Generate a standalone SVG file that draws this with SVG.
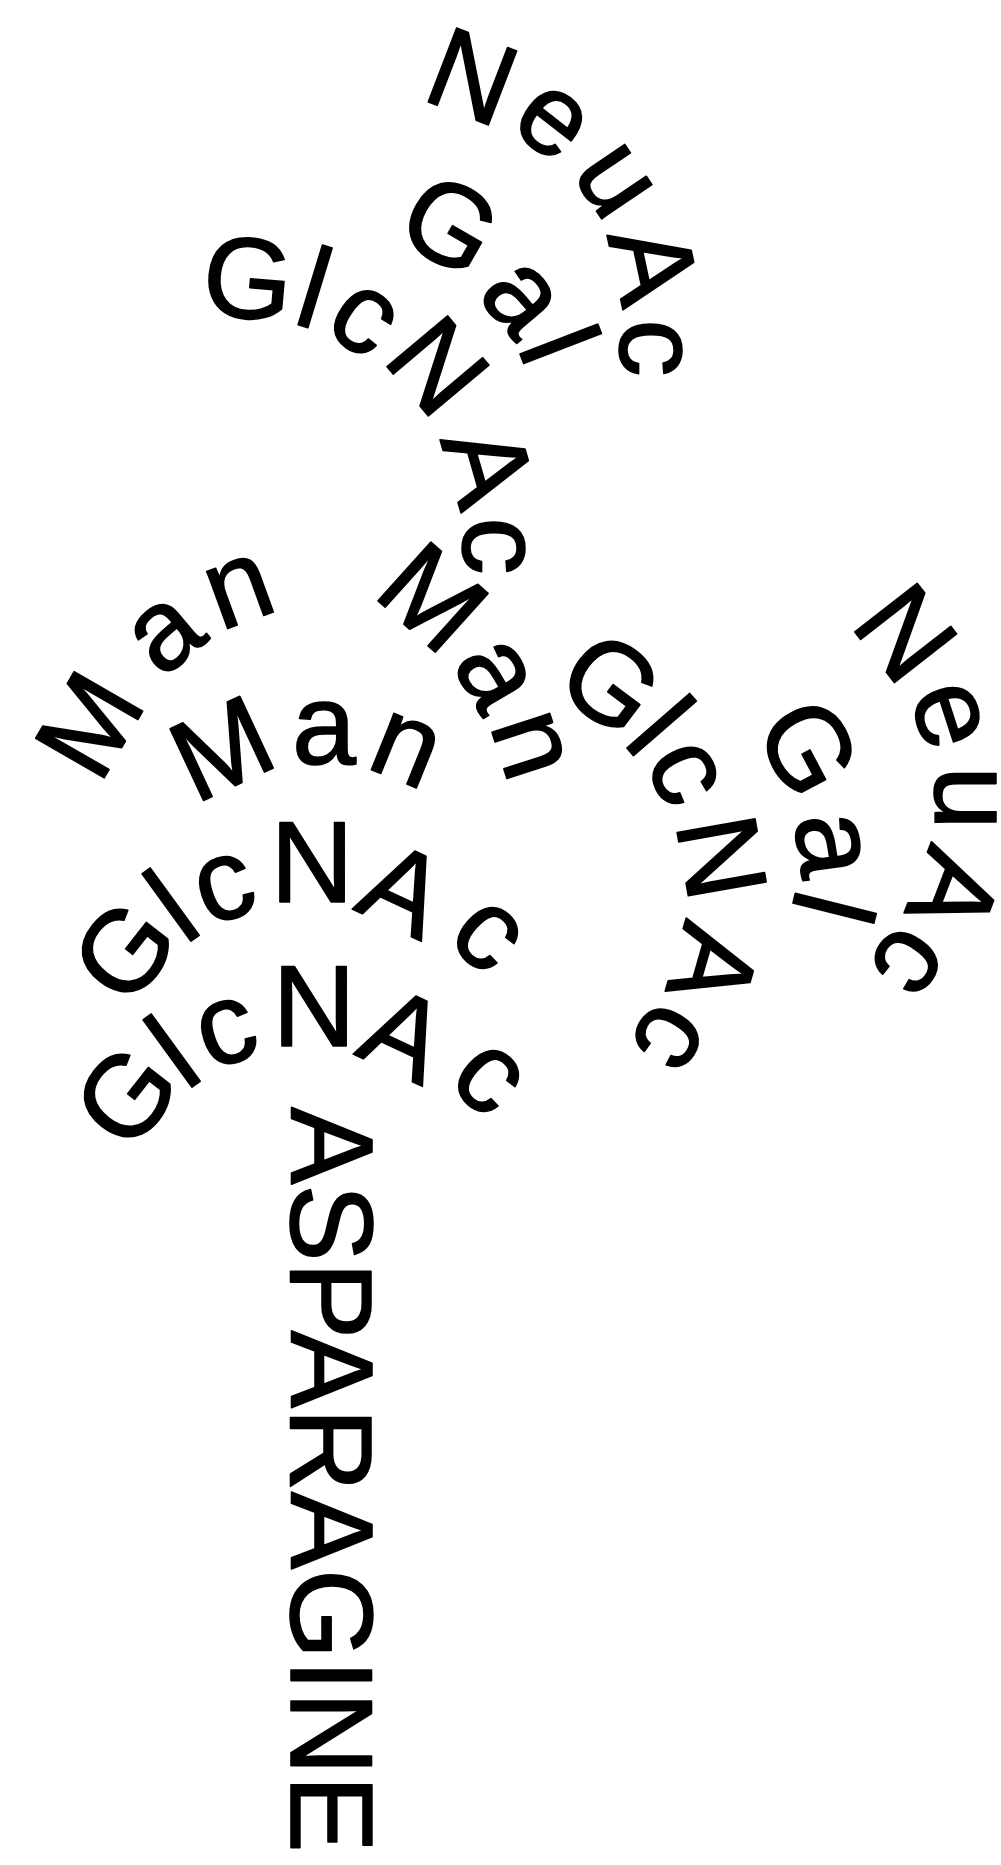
<svg xmlns="http://www.w3.org/2000/svg" width="1001" height="1865" viewBox="0 0 1001 1865">
<style>
text{font-family:"Liberation Sans",Arial,sans-serif;font-size:115px;fill:#000;stroke:#000;stroke-width:1.6px;stroke-linejoin:round;text-anchor:middle}
</style>
<rect width="1001" height="1865" fill="#fff"/>
<g id="neuac-top">
<text transform="translate(473,75) rotate(21)" y="41">N</text>
<text transform="translate(551,123) rotate(38)" y="30">e</text>
<text transform="translate(613,182) rotate(56)" y="30">u</text>
<text transform="translate(655,264) rotate(78)" y="41">A</text>
<text transform="translate(650,348) rotate(90)" y="30">c</text>
</g>
<g id="gal-top">
<text transform="translate(451,223) rotate(30)" y="41">G</text>
<text transform="translate(519,300) rotate(50)" y="30">a</text>
<text transform="translate(560,344) rotate(69)" y="41">l</text>
</g>
<g id="glcnac-top">
<text transform="translate(248,277) rotate(5)" y="41">G</text>
<text transform="translate(315,287) rotate(17)" y="41">l</text>
<text transform="translate(362,321) rotate(35)" y="30">c</text>
<text transform="translate(439,365) rotate(50)" y="41">N</text>
<text transform="translate(490,465) rotate(74)" y="41">A</text>
<text transform="translate(493,546) rotate(90)" y="30">c</text>
</g>
<g id="man-right">
<text transform="translate(434,596) rotate(42)" y="41">M</text>
<text transform="translate(493,676) rotate(60)" y="30">a</text>
<text transform="translate(528,746) rotate(72)" y="30">n</text>
</g>
<g id="man-left">
<text transform="translate(88,724) rotate(-60)" y="41">M</text>
<text transform="translate(167,636) rotate(-40)" y="30">a</text>
<text transform="translate(240,592) rotate(-20)" y="30">n</text>
</g>
<g id="man-middle">
<text transform="translate(221,747) rotate(-25)" y="41">M</text>
<text transform="translate(324,734) rotate(0)" y="30">a</text>
<text transform="translate(405,751) rotate(22)" y="30">n</text>
</g>
<g id="glcnac-right">
<text transform="translate(612,682) rotate(37)" y="41">G</text>
<text transform="translate(661,725) rotate(49)" y="41">l</text>
<text transform="translate(683,774) rotate(64)" y="30">c</text>
<text transform="translate(723,857) rotate(80)" y="41">N</text>
<text transform="translate(715,966) rotate(106)" y="41">A</text>
<text transform="translate(668,1036) rotate(122)" y="30">c</text>
</g>
<g id="gal-right">
<text transform="translate(810,747) rotate(62)" y="41">G</text>
<text transform="translate(828,845) rotate(82)" y="30">a</text>
<text transform="translate(834,908) rotate(104)" y="41">l</text>
</g>
<g id="neuac-right">
<text transform="translate(907,632) rotate(52)" y="41">N</text>
<text transform="translate(947,716) rotate(72)" y="30">e</text>
<text transform="translate(965,798) rotate(90)" y="30">u</text>
<text transform="translate(956,892) rotate(111)" y="41">A</text>
<text transform="translate(907,960) rotate(125)" y="30">c</text>
</g>
<g id="glcnac-1">
<text transform="translate(123,950) rotate(-52)" y="41">G</text>
<text transform="translate(171,905) rotate(-36)" y="41">l</text>
<text transform="translate(225,889) rotate(-18)" y="30">c</text>
<text transform="translate(312,861) rotate(0)" y="41">N</text>
<text transform="translate(404,888) rotate(25)" y="41">A</text>
<text transform="translate(486,937) rotate(42)" y="30">c</text>
</g>
<g id="glcnac-2">
<text transform="translate(125,1095) rotate(-52)" y="41">G</text>
<text transform="translate(172,1051) rotate(-36)" y="41">l</text>
<text transform="translate(227,1033) rotate(-18)" y="30">c</text>
<text transform="translate(314,1005) rotate(0)" y="41">N</text>
<text transform="translate(405,1033) rotate(25)" y="41">A</text>
<text transform="translate(487,1080) rotate(42)" y="30">c</text>
</g>
<g id="asparagine">
<text transform="translate(291,1107) rotate(90)" style="font-size:116px;text-anchor:start">ASPARAGINE</text>
</g>
<g id="connectors"/>
</svg>
